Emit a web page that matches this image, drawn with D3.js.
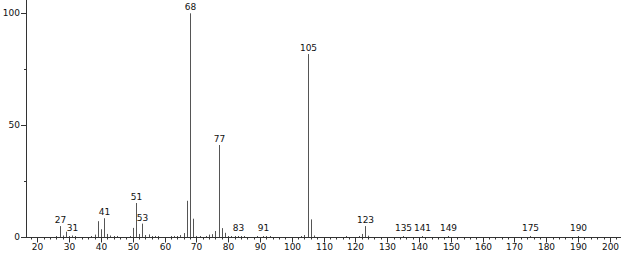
<!DOCTYPE html>
<html>
<head>
<meta charset="utf-8">
<script src="https://cdn.jsdelivr.net/npm/d3@7"></script>
<style>
  body { margin: 0; background: #fff; }
  text { font-family: "DejaVu Sans", sans-serif; font-size: 9px; fill: #111; }
</style>
</head>
<body>
<div id="chart"></div>
<script>
const width = 623, height = 254;

// m/z and relative intensity
const mz = [26, 27, 28, 29, 30, 31, 32, 37, 38, 39, 40, 41, 42, 43, 44, 45, 49, 50, 51, 52, 53, 54, 55, 56, 57, 58,
  62, 63, 64, 65, 66, 67, 68, 69, 70, 71, 73, 74, 75, 76, 77, 78, 79, 80, 81, 82, 83, 84, 85, 89, 91, 92, 93,
  103, 104, 105, 106, 107, 117, 121, 122, 123, 124, 135, 141, 149, 175, 190];
const intensity = [0.5, 5, 0.8, 2.5, 0.5, 0.8, 0.3, 0.5, 1.2, 7.2, 3.6, 8.5, 1.5, 0.8, 0.4, 0.6, 0.5, 4.2, 15.3, 1.5, 6.1, 1.0, 1.3, 0.4, 0.6, 0.4,
  0.4, 0.6, 0.5, 1.0, 1.9, 16.3, 100, 8.3, 0.6, 0.4, 0.5, 1.2, 1.4, 2.8, 41.2, 4.1, 2.0, 0.5, 0.3, 0.3, 0.5, 0.3, 0.3, 0.3, 0.5, 0.3, 0.3,
  0.4, 1.0, 81.8, 8.0, 0.8, 0.3, 0.5, 1.5, 5.0, 0.7, 0.3, 0.3, 0.3, 0.3, 0.3];
const labelledPeaks = [27, 31, 41, 51, 53, 68, 77, 83, 91, 105, 123, 135, 141, 149, 175, 190];
const xTicks = d3.range(20, 201, 10);
const yTicks = [0, 50, 100];

const x = d3.scaleLinear().domain([16.45, 203.5]).range([26, 621]);
const y = d3.scaleLinear().domain([0, 100]).range([237.3, 13.3]);

const svg = d3.select("#chart").append("svg")
  .attr("width", width).attr("height", height);

const px = v => Math.round(x(v)) + 0.5;
const data = mz.map((m, i) => ({ m, v: intensity[i] }));

// bars
svg.append("g").selectAll("line").data(data).join("line")
  .attr("x1", d => px(d.m)).attr("x2", d => px(d.m))
  .attr("y1", Math.round(y(0)))
  .attr("y2", d => Math.min(Math.round(y(0)) - 1, y(d.v)))
  .attr("stroke", "#555").attr("stroke-width", 1);

// peak labels
svg.append("g").selectAll("text").data(data.filter(d => labelledPeaks.includes(d.m))).join("text")
  .attr("x", d => px(d.m))
  .attr("y", d => Math.min(y(d.v), y(0) - 3) - 3)
  .attr("text-anchor", "middle")
  .text(d => d.m);

// x axis
const base = Math.round(y(0)) + 0.5;
svg.append("line").attr("x1", 26).attr("x2", 621).attr("y1", base).attr("y2", base)
  .attr("stroke", "#333");
svg.append("g").selectAll("line").data(d3.range(18, 204, 2)).join("line")
  .attr("x1", d => px(d)).attr("x2", d => px(d))
  .attr("y1", base).attr("y2", d => d % 10 === 0 ? base + 5 : base + 2)
  .attr("stroke", "#333");
svg.append("g").selectAll("text").data(xTicks).join("text")
  .attr("x", d => px(d)).attr("y", 250)
  .attr("text-anchor", "middle")
  .text(d => d);

// y axis
svg.append("line").attr("x1", 26.5).attr("x2", 26.5).attr("y1", 0).attr("y2", base)
  .attr("stroke", "#333");
svg.append("g").selectAll("line").data([0, 25, 50, 75, 100]).join("line")
  .attr("x1", d => d % 50 === 0 ? 21 : 24).attr("x2", 26)
  .attr("y1", d => Math.round(y(d)) + 0.5).attr("y2", d => Math.round(y(d)) + 0.5)
  .attr("stroke", "#333");
svg.append("g").selectAll("text").data(yTicks).join("text")
  .attr("x", 20).attr("y", d => y(d) + 3)
  .attr("text-anchor", "end")
  .text(d => d);
</script>
</body>
</html>
